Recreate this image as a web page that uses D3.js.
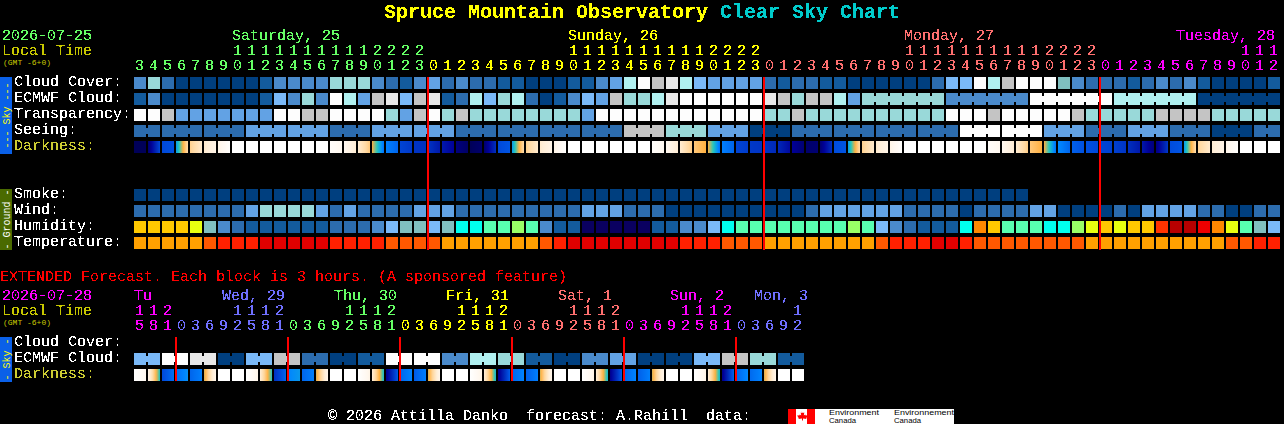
<!DOCTYPE html>
<html><head><meta charset="utf-8">
<script src="https://cdn.jsdelivr.net/npm/d3@7"></script>
<style>
html,body{margin:0;padding:0;background:#000;overflow:hidden}
svg{display:block}
text{font-family:"Liberation Mono",monospace;font-size:15px;white-space:pre}
</style></head><body>
<svg id="c" width="1284" height="424"></svg>
<script>
// ---------- main forecast (one block per hour) ----------
const mainHours = [3,4,5,6,7,8,9,10,11,12,13,14,15,16,17,18,19,20,21,22,23,
 0,1,2,3,4,5,6,7,8,9,10,11,12,13,14,15,16,17,18,19,20,21,22,23,
 0,1,2,3,4,5,6,7,8,9,10,11,12,13,14,15,16,17,18,19,20,21,22,23,
 0,1,2,3,4,5,6,7,8,9,10,11,12];
const mainDayNames = ["Saturday, 25","Sunday, 26","Monday, 27","Tuesday, 28"];
const mainDayLabelCols = [7,31,55,74.4];
const mainDayStartCols = [0,21,45,69];
const midnightCols = [21,45,69];

const cloudCover = [3,6,2,0,0,0,0,0,0,1,3,3,3,3,6,6,6,3,2,1,3,
 4,2,3,2,2,1,1,0,0,0,1,1,3,4,7,10,8,9,7,5,4,4,4,4,
 2,1,2,2,1,1,0,0,0,0,0,0,2,5,5,10,7,8,10,10,10,5.5,3,2,2,
 2,1,2,3,2,3,1,0,0,0,0,1];
const ecmwfCloud = [1,3,0,0,0,0,0,0,0,1,5,3,6,3,10,7,4,8,9,5,8,
 9,1,2,7,5,6,7,2,0,1,3,5,4,8,6,6,7,9,10,10,10,10,10,10,
 9,8,6,8,8,7,4,6,6,6,6,6,6,3,3,3,3,3,3,10,10,10,10,10,10,
 7,7,7,7,7,7,0,0,0,0,0,0];
const ecmwfJoinedFrom = 52, ecmwfJoinEvery = 6;
const transparency = [10,10,8,4,4,4,4,4,4,4,10,10,8,8,10,10,10,10,6,4,8,
 10,6,8,6,6,6,6,6,6,6,6,4,10,10,10,10,10,10,10,10,10,10,10,10,
 6,6,8,6,6,6,6,6,6,6,6,6,6,10,10,10,8,10,10,10,10,10,8,6,6,
 6,6,6,8,8,8,8,6,6,6,6,6];
const seeing = [2,2,2,2,2,2,2,2,4,4,4,4,4,4,2,2,2,4,4,4,4,
 4,4,2,2,2,2,2,2,2,2,2,2,2,2,8,8,8,6,6,6,4,4,4,0,
 0,0,2,2,2,2,2,2,2,2,2,2,2,2,10,10,10,10,10,10,4,4,4,2,
 2,2,4,4,4,2,2,2,0,0,0,2,2];
const seeingJoinOffset = 2, seeingJoinEvery = 3;
const darkStart = [0,0.3,2.8,4.3,6.8,7.8,8.6,10,10,10,10,10,10,10,9.6,9,7.9,6,3.9,2.7,2.3,
 2.3,1.6,0.6,0,0.3,2.8,4.3,6.8,7.8,8.6,10,10,10,10,10,10,9.6,9,7.9,6.6,6,3.9,2.7,2.4,
 2.3,2,1,0.3,0.4,2.9,4.3,6.8,7.8,8.6,10,10,10,10,10,10,9.6,9,7.9,6.6,6,4.1,3.3,3,2.7,
 2.6,2.2,1.6,0.6,2.9,4.3,6.9,7.9,8.7,10,10,10];
const darkEnd = [0,2.8,3,7.2,7.8,8.6,9.8,10,10,10,10,10,10,10,9,7.9,6.6,3.7,3.4,2.4,2.2,
 1.6,1,0.2,0.3,2.2,3.1,7.2,7.8,8.6,9.8,10,10,10,10,10,10,9,7.9,6.7,6,3.7,3.4,2.5,2.3,
 2,1.2,0.4,0.4,2.2,3.1,7.2,7.8,8.6,9.8,10,10,10,10,10,10,9,7.9,6.7,6,3.7,3.4,3,2.8,2.6,
 2.3,1.6,0.5,2.4,3.1,7.2,7.8,8.6,9.8,10,10,10];
const smoke = [0,0,0,0,0,0,0,0,0,0,0,0,0,0,0,0,0,0,0,0,0,0,0,0,0,0,0,0,0,0,0,0,
 0,0,0,0,0,0,0,0,0,0,0,0,0,0,0,0,0,0,0,0,0,0,0,0,0,0,0,0,0,0,0,0];
const wind = [2,2,2,2,2,2,2,2,4,6,6,6,6,4,2,4,2,2,2,2,4,
 4,4,2,2,2,2,2,2,2,2,2,4,4,4,2,2,2,0,0,0,0,0,0,0,
 0,0,0,2,4,4,4,4,4,4,2,2,2,2,0,2,2,2,2,4,4,0,0,0,0,
 2,0,4,4,4,4,2,2,0,0,2,2];
const humidity = [10,10,10,10,9,5,3,2,1,1,1,1,1,1,2,2,2,3,4,5,5,
 4,5,6,6,7,7,8,7,3,1,1,0,0,0,0,0,1,1,3,3,4,6,7,7,
 7,7,7,7,7,7,8,7,4,3,2,1,1,1,6,11,10,7,7,7,6,6,8,9,10,
 9,10,10,12,14,14,13,11,9,7,5,4];
const temperature = [3,3,3,3,3,2,1,1,1,0,0,0,0,0,1,1,1,1,2,2,2,
 2,3,3,3,3,3,3,3,2,1,0,0,0,0,0,0,0,0,1,1,1,2,2,2,
 3,3,3,3,3,3,3,3,2,1,1,1,0,0,1,2,2,2,2,2,2,2,2,3,3,
 3,3,3,3,3,3,3,3,2,2,1,1];

// ---------- extended forecast (one block per 3 hours) ----------
const extHours = [15,18,21,
 0,3,6,9,12,15,18,21, 0,3,6,9,12,15,18,21, 0,3,6,9,12,15,18,21,
 0,3,6,9,12,15,18,21, 0,3,6,9,12,15,18,21, 0,3,6,9,12];
const extDayNames = ["Tu","Wed, 29","Thu, 30","Fri, 31","Sat, 1","Sun, 2","Mon, 3"];
const extDayLabelX = [0,6.3,14.3,22.3,30.3,38.3,44.3];
const extDayStartCols = [0,3,11,19,27,35,43];
const extMidnightCols = [3,11,19,27,35,43];
const extEcmwf = [5,5,10,10,9,9,0,0,5,5,8,8,2,2,0,0,1,1,10,10,10,10,3,3,
 7,7,6,6,1,1,0,0,3,3,4,4,0,0,0,0,5,5,8,8,6,6,1,1];
const extDarkStart = [10,8.6,2.8,3.6,3.4,5.8,10,10,10,8,2.2,4,3.4,5.8,10,10,10,8,0.8,3.4,3.2,5.8,10,10,
 10,8,0.7,3.4,3.3,5.8,10,10,10,8,0.8,3.4,3.3,5.8,10,10,10,8,0.7,3.4,3.5,5.8,10,10];
const extDarkEnd = [9,4.9,3.6,4.2,3.9,8.8,10,10,8.6,5,3.4,4.3,3.9,8.8,10,10,8.6,4.8,3.2,4,3.9,8.8,10,10,
 8.6,4.7,3.3,4,3.9,8.8,10,10,8.6,4.7,3.3,4,3.9,8.8,10,10,8.6,4.7,3.4,4.1,4,8.8,10,10];

// ---------- labels ----------
const skyRowLabels = ["Cloud Cover:","ECMWF Cloud:","Transparency:","Seeing:","Darkness:"];
const groundRowLabels = ["Smoke:","Wind:","Humidity:","Temperature:"];
const extRowLabels = ["Cloud Cover:","ECMWF Cloud:","Darkness:"];

// ---------- palettes ----------
const cloudPalette = d3.scaleLinear()
 .domain([0,1,2,3,4,5,5.5,6,7,8,9,10])
 .range(["#003f7f","#135b9d","#2c6cae","#4a8acb","#62a2e4","#7ab9f8","#7fbfbf","#99d9d9","#b0f0f0","#c4c4c4","#e8e8e8","#fdfdfd"]);
const humidityPalette = d3.scaleOrdinal().domain(d3.range(15))
 .range(["#0a0060","#135b9d","#2c6cae","#4a8acb","#7ab9f8","#80bfbf","#00ffee","#58ffb0","#99ff66","#e8ff10","#ffc800","#ff8800","#ff3300","#ee0000","#b80000"]);
const tempPalette = d3.scaleOrdinal().domain([0,1,2,3]).range(["#e00000","#ff2000","#ff5800","#ffa000"]);
const darkPalette = d3.scaleLinear()
 .domain([0,1,2,3,4,5,6,7,8,9,10])
 .range(["#000058","#000098","#0028b8","#0050e0","#0084ff","#20c8c0","#ffb040","#ffd8a0","#ffeed8","#fff8f0","#ffffff"]);
const GREEN="#66ff66", YEL="#ffff00", SAL="#ff7070", MAG="#ff00ff", BLU="#7070ff";
const mainDayColors=[GREEN,YEL,SAL,MAG];
const extDayColors=[MAG,BLU,GREEN,YEL,SAL,MAG,BLU];

// ---------- scales ----------
const x = d3.scaleLinear().domain([0,82]).range([134,1282]);
const blockW = 12, blockH = 12, rowPitch = 16;
const svg = d3.select("#c");
const defs = svg.append("defs");
const f = defs.append("filter").attr("id","crisp").attr("x","-2%").attr("y","-20%").attr("width","104%").attr("height","140%")
 .attr("color-interpolation-filters","sRGB");
f.append("feComponentTransfer").append("feFuncA").attr("type","discrete").attr("tableValues","0 0 0 1 1 1 1");
svg.append("rect").attr("width",1284).attr("height",424).attr("fill","#000");

const marks = svg.append("g");
const plain = svg.append("g");
const txt = svg.append("g").attr("filter","url(#crisp)");
const rowY = (top,i)=>top+i*rowPitch;

function solidRow(values, y, color, joined){
  const g = marks.append("g");
  g.selectAll("rect.b").data(values).join("rect").attr("class","b")
   .attr("x",(d,i)=>x(i)).attr("y",y).attr("width",blockW).attr("height",blockH)
   .attr("fill",d=>color(d));
  if(joined){
    g.selectAll("rect.j").data(values.map((d,i)=>({d,i})).filter(o=>o.i<values.length-1&&joined(o.i)))
     .join("rect").attr("class","j")
     .attr("x",o=>x(o.i)+blockW).attr("y",y+3).attr("width",2).attr("height",blockH-6)
     .attr("fill",o=>color(o.d));
  }
}
let gid=0;
function darkRow(starts, ends, y){
  const g = marks.append("g");
  starts.forEach((s,i)=>{
    const id="dk"+(gid++);
    const lg=defs.append("linearGradient").attr("id",id);
    const t=d3.scaleLinear().domain([0,1]).range([s,ends[i]]);
    d3.range(0,1.01,0.125).forEach(p=>lg.append("stop").attr("offset",p).attr("stop-color",darkPalette(t(p))));
    g.append("rect").attr("x",x(i)).attr("y",y).attr("width",blockW).attr("height",blockH).attr("fill",`url(#${id})`);
  });
}
function vlines(cols, y1, y2){
  marks.append("g").selectAll("rect").data(cols).join("rect")
   .attr("x",c=>x(c)-1).attr("y",y1).attr("width",2).attr("height",y2-y1).attr("fill","#ff0000");
}
function label(s,xx,yy,fill,extra){
  const t=txt.append("text").attr("x",Math.round(xx)).attr("y",yy).attr("fill",fill).text(s);
  if(extra) extra(t);
  return t;
}
function smallLabel(s,xx,yy,fill,size){
  return plain.append("text").attr("x",xx).attr("y",yy).attr("fill",fill).style("font-size",size+"px").text(s);
}
function hourLabels(hours, startCols, colors, yTens, yUnits){
  hours.forEach((h,i)=>{
    const day=d3.bisectRight(startCols,i)-1;
    const lx=x(i)+1;
    txt.append("text").attr("x",lx).attr("y",yUnits).attr("fill",colors[day]).text(h%10);
    if(h>=10) txt.append("text").attr("x",lx).attr("y",yTens).attr("fill",colors[day]).text(Math.floor(h/10));
  });
}
function sideBar(y,h,fill,textFill,s){
  marks.append("rect").attr("x",0).attr("y",y).attr("width",12).attr("height",h).attr("fill",fill);
  smallLabel(s,0,0,textFill,10).attr("transform",`translate(9.5,${y+h/2}) rotate(-90)`).attr("text-anchor","middle");
}

// title
label("Spruce Mountain Observatory",384,18,"#ffff00",t=>t.style("font-size","20px").style("font-weight","bold"));
label("Clear Sky Chart",720,18,"#00cccc",t=>t.style("font-size","20px").style("font-weight","bold"));

// main header
label("2026-07-25",2,40,GREEN);
label("Local Time",2,55,"#c8c800");
smallLabel("(GMT -6+0)",3,65,"#c8c800",8);
mainDayNames.forEach((n,i)=>label(n,x(mainDayLabelCols[i]),40,mainDayColors[i]));
hourLabels(mainHours,mainDayStartCols,mainDayColors,55,70);

// main blocks
const skyTop=77, groundTop=189;
solidRow(cloudCover,rowY(skyTop,0),cloudPalette);
solidRow(ecmwfCloud,rowY(skyTop,1),cloudPalette,i=>i>=ecmwfJoinedFrom&&(i-ecmwfJoinedFrom)%ecmwfJoinEvery!==ecmwfJoinEvery-1);
solidRow(transparency,rowY(skyTop,2),cloudPalette);
solidRow(seeing,rowY(skyTop,3),cloudPalette,i=>((i+seeingJoinEvery-seeingJoinOffset)%seeingJoinEvery)!==seeingJoinEvery-1);
darkRow(darkStart,darkEnd,rowY(skyTop,4));
solidRow(smoke,rowY(groundTop,0),cloudPalette);
solidRow(wind,rowY(groundTop,1),cloudPalette);
solidRow(humidity,rowY(groundTop,2),humidityPalette);
solidRow(temperature,rowY(groundTop,3),tempPalette);
vlines(midnightCols,77,250);

skyRowLabels.forEach((s,i)=>label(s,14,86+i*rowPitch,i===4?"#cccc33":"#ffffff"));
groundRowLabels.forEach((s,i)=>label(s,14,198+i*rowPitch,"#ffffff"));
sideBar(77,77,"#0a60e8","#ffff00","--- Sky ---");
sideBar(189,61,"#4a6a00","#ffffff","- Ground -");

// extended
label("EXTENDED Forecast. Each block is 3 hours. (A sponsored feature)",0,281,"#ff0000");
label("2026-07-28",2,300,MAG);
label("Local Time",2,315,"#c8c800");
smallLabel("(GMT -6+0)",3,325,"#c8c800",8);
extDayNames.forEach((n,i)=>label(n,x(extDayLabelX[i]),300,extDayColors[i]));
hourLabels(extHours,extDayStartCols,extDayColors,315,330);
const extTop=337;
solidRow(extEcmwf,rowY(extTop,1),cloudPalette,i=>i%2===0);
darkRow(extDarkStart,extDarkEnd,rowY(extTop,2));
vlines(extMidnightCols,337,381);
extRowLabels.forEach((s,i)=>label(s,14,346+i*rowPitch,i===2?"#cccc33":"#ffffff"));
sideBar(337,45,"#0a60e8","#ffff00","- Sky -");

// footer
label("\u00a9 2026 Attilla Danko  forecast: A.Rahill  data:",328,419.5,"#ffffff");
const logo=svg.append("g");
logo.append("rect").attr("x",788).attr("y",409).attr("width",166).attr("height",15).attr("fill","#fff");
logo.append("rect").attr("x",788).attr("y",409).attr("width",8).attr("height",15).attr("fill","#f00");
logo.append("rect").attr("x",807).attr("y",409).attr("width",8).attr("height",15).attr("fill","#f00");
logo.append("path").attr("d","M801.5 411l1.2 2 1.6-.6-.5 3 1.4-.8.5 1 2-.3-.7 2-.8.6 .3 1-3.5-.4v2h-1v-2l-3.5.4 .3-1-.8-.6-.7-2 2 .3 .5-1 1.4.8-.5-3 1.6.6z").attr("fill","#f00");
[["Environment",829,414.5,50],["Canada",829,422.5,27],["Environnement",894,414.5,60],["Canada",894,422.5,27]].forEach(d=>{
  logo.append("text").attr("x",d[1]).attr("y",d[2]).attr("textLength",d[3]).attr("lengthAdjust","spacingAndGlyphs")
   .attr("fill","#000").style("font-family","'Liberation Sans',sans-serif").style("font-size","7px").text(d[0]);
});
</script>
</body></html>
